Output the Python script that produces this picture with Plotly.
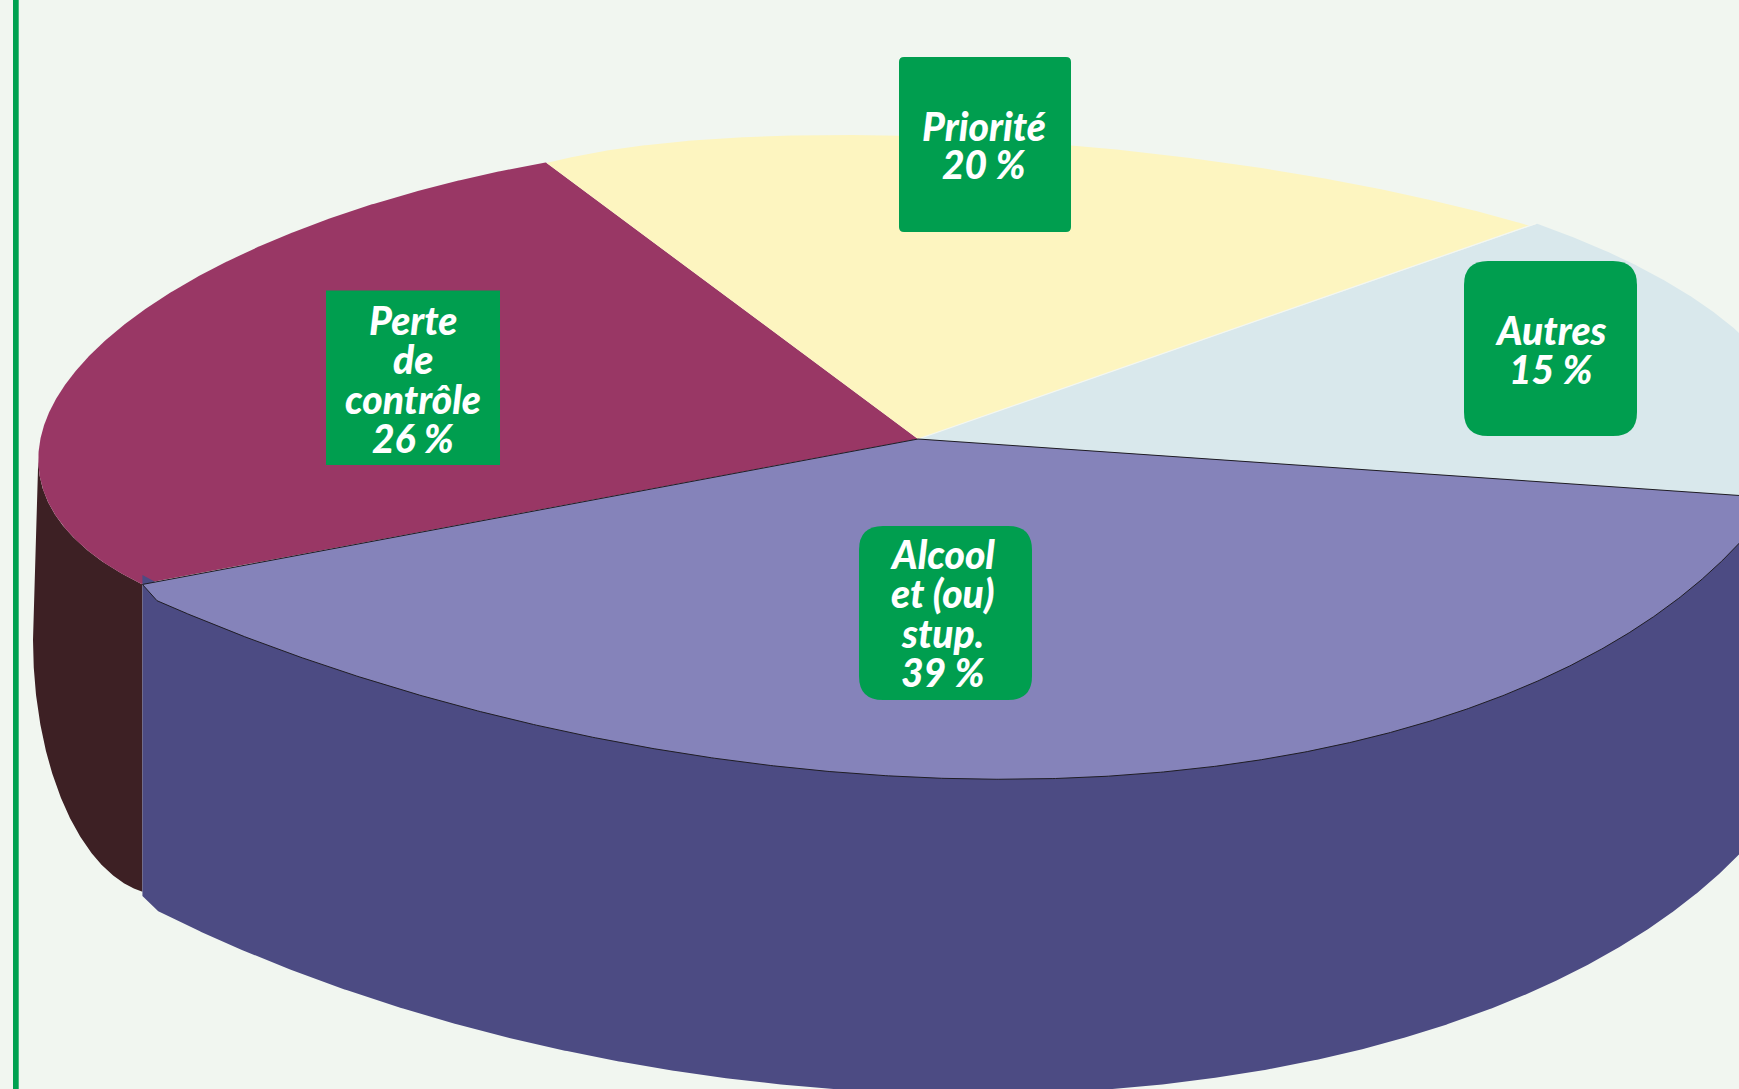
import numpy as np
import plotly.graph_objects as go

# ---- chart data ----
categories = ["Perte de contrôle", "Priorité", "Autres", "Alcool et (ou) stup."]
# printed percentages are in the labels; the sweep of each slice as measured on the picture:
slice_sweeps = [25.4, 20.0, 15.2, 39.4]
label_lines = [
    ["Perte", "de", "contrôle", "26 %"],
    ["Priorité", "20 %"],
    ["Autres", "15 %"],
    ["Alcool", "et (ou)", "stup.", "39 %"],
]

# ---- styles ----
BG = "#f1f6f0"
GREEN = "#009e4f"
RULE = "#00a150"
INK = "#1f1d24"
FACE = ["#993765", "#fdf5c0", "#d9e8ec", "#8583ba"]
WALL_MAROON = "#3d2024"
WALL_BLUE = "#4c4b83"
FONT = "Lato"
FONT_SIZE = 39

# ---- projection of the pie disc ----
APEX = np.array([918.0, 439.0])
RAY_SCALE = (890.0, 322.0)
START_DEG = 152.6
# rim ellipses (cx, cy, a, b, phi), one per slice: the drawing is not a perfect ellipse
RIM = [
    (637.370, 391.978, 603.607, 240.807, 3.008),
    (1095.972, 290.047, 648.259, 141.807, -3.042),
    (925.0, 455.0, 880.0, 322.0, 0.0),
    (683.125, 118.412, 1175.896, 624.174, -2.922),
]
LOW_BLUE = (790.810, 521.335, 1057.074, 560.513, -3.009)
LOW_MAROON = (163.0, 640.0, 130.0, 255.0, 0.0)
KINK_X = 157.0
KINK_LOW_X = 158.0
CORNER_LOW_Y = 896.0

# ---- label boxes: x0, x1, y0, y1, radius, centre x, first baseline, line step ----
BOXES = [
    (326, 500, 290.5, 465, 0, 412.5, 335, 39.3),
    (899, 1071, 57, 232, 5, 984, 141, 38.5),
    (1464, 1637, 261, 436, 24, 1550.5, 345, 39),
    (859, 1032, 526, 700, 24, 942.5, 569, 39.5),
]


def ell_pt(e, t):
    c, s = np.cos(e[4]), np.sin(e[4])
    return (e[0] + e[2] * np.cos(t) * c - e[3] * np.sin(t) * s,
            e[1] + e[2] * np.cos(t) * s + e[3] * np.sin(t) * c)


def ell_param(e, p):
    c, s = np.cos(e[4]), np.sin(e[4])
    dx, dy = p[0] - e[0], p[1] - e[1]
    return np.arctan2((-s * dx + c * dy) / e[3], (c * dx + s * dy) / e[2])


def ray_hit(e, deg):
    """Point where the ray of pie angle `deg`, from the apex, meets rim ellipse e."""
    th = np.radians(deg)
    d = np.array([RAY_SCALE[0] * np.cos(th), RAY_SCALE[1] * np.sin(th)])
    c, s = np.cos(e[4]), np.sin(e[4])
    R = np.array([[c / e[2], s / e[2]], [-s / e[3], c / e[3]]])
    o = R @ (APEX - np.array(e[:2]))
    v = R @ d
    A, B, C = v @ v, 2 * o @ v, o @ o - 1
    k = (-B + np.sqrt(B * B - 4 * A * C)) / (2 * A)
    return APEX + k * d


def arc(e, p0, p1, n=700):
    t0, t1 = ell_param(e, p0), ell_param(e, p1)
    t1 = t0 + (t1 - t0) % (2 * np.pi)
    return ell_pt(e, np.linspace(t0, t1, n))


cum = START_DEG + np.concatenate([[0], np.cumsum(slice_sweeps)]) * 3.6
fig = go.Figure()


def poly(x, y, fill, line=None, width=1):
    fig.add_trace(go.Scatter(
        x=x, y=y, mode="lines", fill="toself", fillcolor=fill,
        line=dict(color=line or fill, width=width if line else 0),
        hoverinfo="skip"))


# maroon wall
D = ray_hit(RIM[0], cum[0])
A_pt = ray_hit(RIM[0], cum[1])
tl = np.arange(ell_param(RIM[0], D), ell_param(RIM[0], D) + 2 * np.pi, 0.003)
rx, ry = ell_pt(RIM[0], tl)
mask = np.cumsum(np.r_[0, np.diff(rx) > 0]) == 0
rx, ry = rx[mask], ry[mask]
s = np.arange(0, np.pi / 2, 0.005)
lx = LOW_MAROON[0] - LOW_MAROON[2] * np.cos(s)
ly = LOW_MAROON[1] + LOW_MAROON[3] * np.sin(s)
keep = lx <= D[0]
poly(np.r_[rx, lx[keep], D[0]], np.r_[ry, ly[keep], ly[keep][-1]], WALL_MAROON)

# maroon face
ax_, ay_ = arc(RIM[0], D, A_pt)
poly(np.r_[APEX[0], ax_], np.r_[APEX[1], ay_], FACE[0])

# blue wall (with the small flap that shows above the slice corner)
C_pt = ray_hit(RIM[3], cum[3])
ray_dir = (D - APEX) / (D[0] - APEX[0])
flap = APEX + ray_dir * (D[0] + 13 - APEX[0])
t = np.linspace(0, 2 * np.pi, 3000)
bx, by = ell_pt(LOW_BLUE, t)
sel = (by > LOW_BLUE[1]) & (bx >= KINK_LOW_X)
order = np.argsort(-bx[sel])
bx, by = bx[sel][order], by[sel][order]
poly(np.r_[D[0], flap[0], APEX[0], C_pt[0], bx, D[0]],
     np.r_[D[1] - 9.5, flap[1], APEX[1], C_pt[1], by, CORNER_LOW_Y],
     WALL_BLUE)

# yellow and pale slices
y0 = ray_hit(RIM[1], cum[1])
y1 = ray_hit(RIM[1], cum[2])
ax_, ay_ = arc(RIM[1], y0, y1)
poly(np.r_[APEX[0], ax_], np.r_[APEX[1], ay_], FACE[1])
p0 = ray_hit(RIM[2], cum[2])
p1 = ray_hit(RIM[2], cum[3])
ax_, ay_ = arc(RIM[2], p0, p1)
poly(np.r_[APEX[0], ax_], np.r_[APEX[1], ay_], FACE[2])
fig.add_trace(go.Scatter(x=[APEX[0], p0[0]], y=[APEX[1], p0[1]], mode="lines",
                         line=dict(color="#f4f7f0", width=1.2), hoverinfo="skip"))

# alcool face
c1 = ray_hit(RIM[3], cum[3])
tk = np.linspace(0, 2 * np.pi, 4000)
kx, ky = ell_pt(RIM[3], tk)
ib = np.argmin(np.abs(kx - KINK_X) + 1e3 * (ky < RIM[3][1]))
kink = np.array([kx[ib], ky[ib]])
ax_, ay_ = arc(RIM[3], c1, kink)
poly(np.r_[APEX[0], ax_, D[0], APEX[0]], np.r_[APEX[1], ay_, D[1], APEX[1]], FACE[3], INK, 1)

# label boxes and text
shapes = [dict(type="rect", xref="x", yref="y", x0=13, x1=18.7, y0=0, y1=1089,
               fillcolor=RULE, line=dict(width=0), layer="above")]
for (x0, x1, y0_, y1_, r, cx, base, step), lines in zip(BOXES, label_lines):
    if r:
        path = (f"M{x0+r},{y0_} L{x1-r},{y0_} Q{x1},{y0_} {x1},{y0_+r} L{x1},{y1_-r} Q{x1},{y1_} {x1-r},{y1_} "
                f"L{x0+r},{y1_} Q{x0},{y1_} {x0},{y1_-r} L{x0},{y0_+r} Q{x0},{y0_} {x0+r},{y0_} Z")
        shapes.append(dict(type="path", path=path, fillcolor=GREEN, line=dict(width=0), layer="above"))
    else:
        shapes.append(dict(type="rect", x0=x0, x1=x1, y0=y0_, y1=y1_, fillcolor=GREEN, line=dict(width=0), layer="above"))
    for i, txt in enumerate(lines):
        fig.add_annotation(x=cx, y=base + i * step - 0.387 * FONT_SIZE, text=txt, showarrow=False,
                           xanchor="center", yanchor="middle",
                           font=dict(family=FONT, size=FONT_SIZE, color="white", style="italic", weight=900))

fig.update_layout(
    width=1739, height=1089, margin=dict(l=0, r=0, t=0, b=0), showlegend=False,
    paper_bgcolor=BG, plot_bgcolor=BG, shapes=shapes,
    xaxis=dict(range=[0, 1739], visible=False, fixedrange=True),
    yaxis=dict(range=[1089, 0], visible=False, fixedrange=True),
)
fig.write_html("out.html", config={"displayModeBar": False},
               post_script="document.body.style.margin='0';document.documentElement.style.overflow='hidden';")
